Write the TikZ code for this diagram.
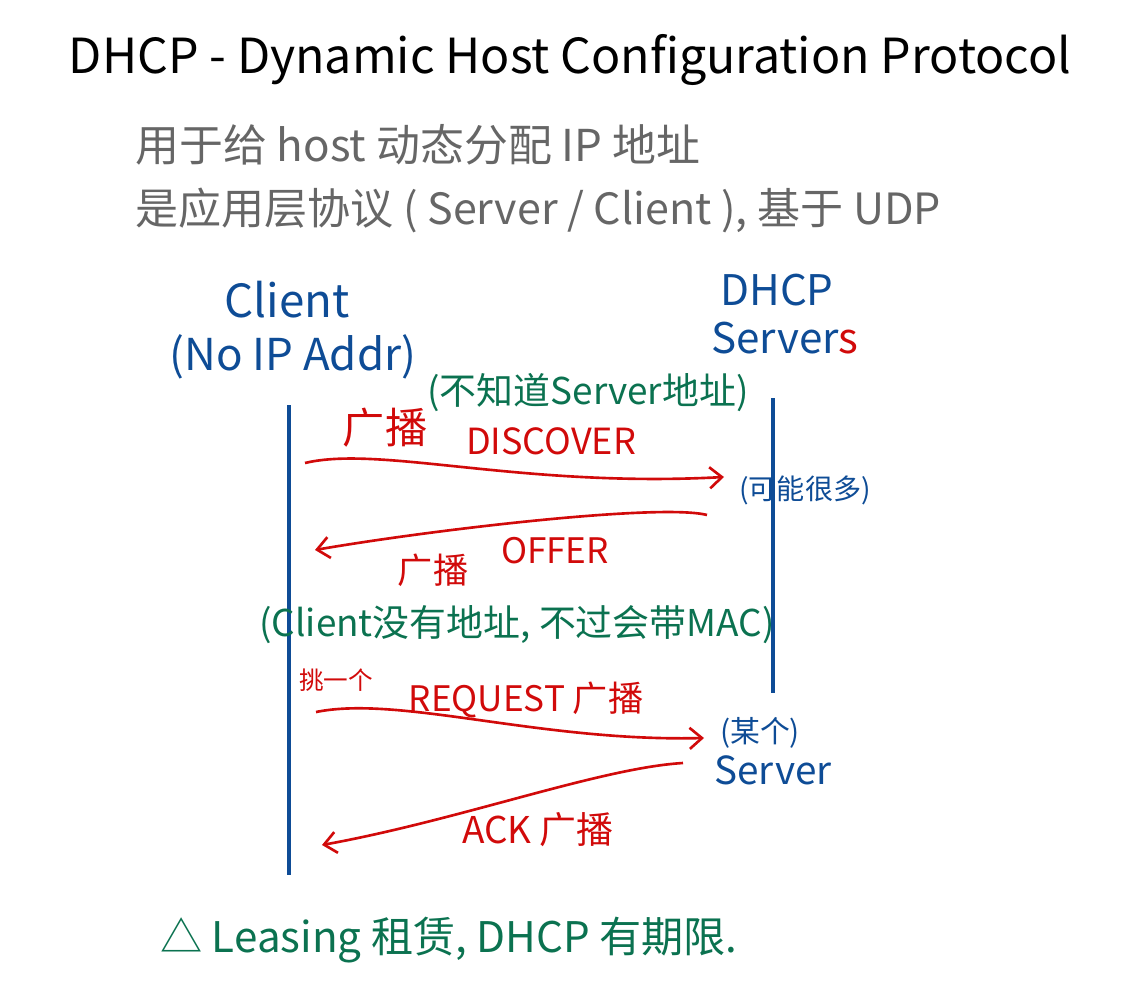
\documentclass[tikz,border=0pt]{standalone}
\usepackage{fontspec}
\setmainfont{Noto Sans CJK SC}
\usetikzlibrary{arrows.meta}
\definecolor{blueink}{HTML}{0E4C96}
\definecolor{redink}{HTML}{D10A0A}
\definecolor{greenink}{HTML}{0B7250}
\definecolor{grayink}{HTML}{666666}
\begin{document}
\begin{tikzpicture}[
  x=0.02cm, y=-0.02cm,
  txt/.style={inner sep=0pt, anchor=center},
  note/.style={txt, text=greenink},
  msg/.style={txt, text=redink},
  actor/.style={txt, text=blueink},
  lifeline/.style={draw=blueink, line width=2.3pt},
  msgline/.style={draw=redink, line width=1.5pt, -{Straight Barb[length=7pt,width=12pt,line width=1.5pt]}}
]
  \useasboundingbox (0,0) rectangle (1146,1000);

  % Titel und Erklaerung
  \node[txt, font=\fontsize{27.5}{30}\selectfont] (title) at (570,60) {DHCP - Dynamic Host Configuration Protocol};
  \node[txt, text=grayink, font=\fontsize{25}{28}\selectfont, anchor=west] (line1) at (135,145) {用于给 host 动态分配 IP 地址};
  \node[txt, text=grayink, font=\fontsize{24.5}{28}\selectfont, anchor=west] (line2) at (135,210) {是应用层协议 ( Server / Client ), 基于 UDP};

  % Teilnehmer
  \node[actor, font=\fontsize{26}{30}\selectfont] (client) at (287,300) {Client};
  \node[actor, font=\fontsize{25}{28}\selectfont] (noaddr) at (293,357) {(No IP Addr)};
  \node[actor, font=\fontsize{24}{28}\selectfont] (dhcp) at (777,290) {DHCP};
  \node[actor, font=\fontsize{24}{28}\selectfont] (servers) at (785,338) {Server\textcolor{redink}{s}};

  \coordinate (ctop) at (289,405);
  \coordinate (cbot) at (289,875);
  \coordinate (stop) at (773,398);
  \coordinate (sbot) at (773,693);
  \draw[lifeline] (ctop) -- (cbot);
  \draw[lifeline] (stop) -- (sbot);

  % DISCOVER
  \node[note, font=\fontsize{21}{24}\selectfont] (noserver) at (588,393) {(不知道Server地址)};
  \node[msg, font=\fontsize{24}{28}\selectfont] (bc1) at (385,428) {广播};
  \node[msg, font=\fontsize{20.5}{24}\selectfont] (discover) at (551,441) {DISCOVER};
  \node[actor, font=\fontsize{16}{20}\selectfont] (many) at (805,490) {(可能很多)};
  \coordinate (d0) at (305,463);
  \coordinate (d1) at (724,477);
  \draw[msgline] (d0) .. controls (380,445) and (520,488) .. (d1);

  % OFFER
  \coordinate (o0) at (707,515);
  \coordinate (o1) at (315,550);
  \draw[msgline] (o0) .. controls (660,503) and (430,530) .. (o1);
  \node[msg, font=\fontsize{20}{24}\selectfont] (offer) at (555,551) {OFFER};
  \node[msg, font=\fontsize{20}{24}\selectfont] (bc2) at (433,570) {广播};
  \node[note, font=\fontsize{21}{24}\selectfont] (nomac) at (517,625) {(Client没有地址, 不过会带MAC)};

  % REQUEST
  \node[msg, font=\fontsize{14}{16}\selectfont] (pick) at (336,680) {挑一个};
  \node[msg, font=\fontsize{20}{24}\selectfont] (request) at (526,700) {REQUEST 广播};
  \coordinate (r0) at (316,712);
  \coordinate (r1) at (704,738);
  \draw[msgline] (r0) .. controls (400,695) and (540,742) .. (r1);
  \node[actor, font=\fontsize{17}{20}\selectfont] (some) at (760,733) {(某个)};
  \node[actor, font=\fontsize{22}{26}\selectfont] (server) at (773,770) {Server};

  % ACK
  \coordinate (a0) at (683,763);
  \coordinate (a1) at (322,845);
  \draw[msgline] (a0) .. controls (600,768) and (460,820) .. (a1);
  \node[msg, font=\fontsize{21}{24}\selectfont] (ack) at (538,830) {ACK 广播};

  % Hinweis
  \node[note, font=\fontsize{24}{28}\selectfont, anchor=west] (lease) at (160,940) {△ Leasing 租赁, DHCP 有期限.};
\end{tikzpicture}
\end{document}
